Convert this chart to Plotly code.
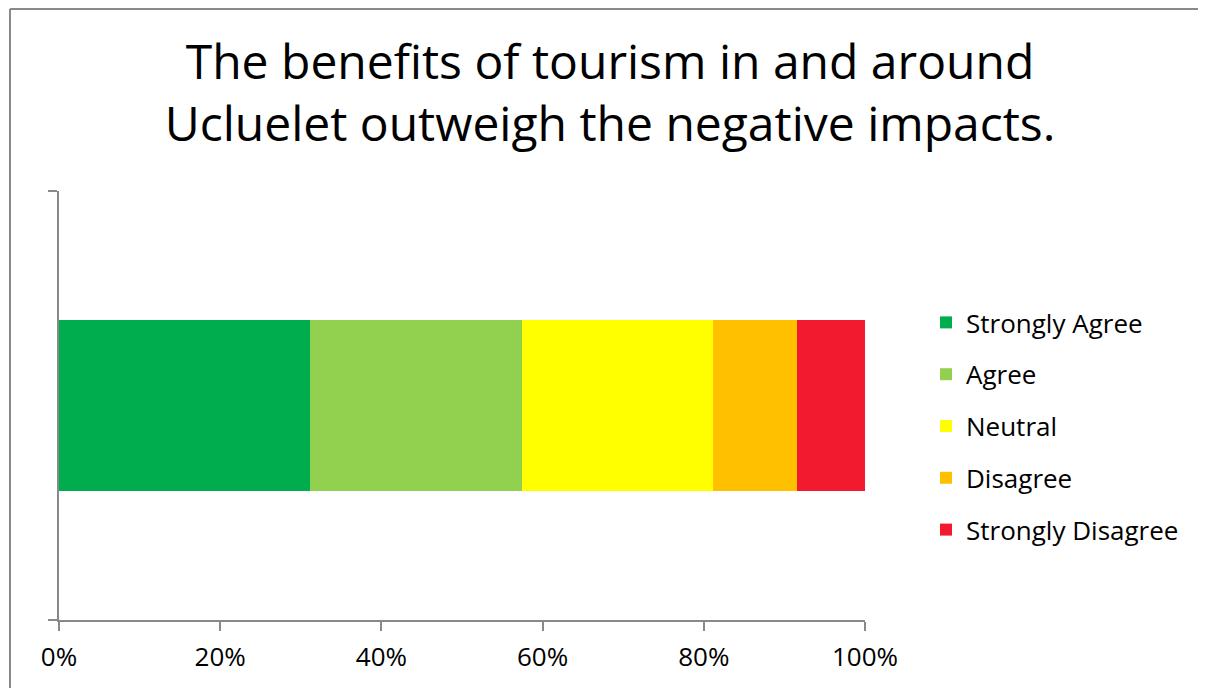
import plotly.graph_objects as go

categories = ["Q"]
series_names = ["Strongly Agree", "Agree", "Neutral", "Disagree", "Strongly Disagree"]
series_values = [31.1, 26.4, 23.7, 10.4, 8.4]
series_colors = ["#00AD4E", "#92D050", "#FFFF00", "#FFC000", "#F21A2F"]
tick_values = [0, 20, 40, 60, 80, 100]
tick_labels = ["0%", "20%", "40%", "60%", "80%", "100%"]
title_text = "The benefits of tourism in and around<br>Ucluelet outweigh the negative impacts."

FONT = "Open Sans"
GREY = "#898989"

fig = go.Figure()
for name, val, col in zip(series_names, series_values, series_colors):
    fig.add_trace(go.Bar(
        y=categories, x=[val], name=name, orientation="h",
        marker=dict(color=col, line=dict(width=0)),
        legendgroup=name, hoverinfo="x+name",
    ))

# page is rendered with an 8px body margin; lay out in page coordinates
OFF = 8
W, H = 1206, 688
L = 59 - OFF
T = 191 - OFF
R = W - (865 - OFF)
B = H - (620 - OFF)
pw, ph = W - L - R, H - T - B

def px(x):
    return (x - OFF - L) / pw

def py(y):
    return (H - B - (y - OFF)) / ph

fig.update_layout(
    width=W, height=H,
    barmode="stack",
    bargap=0.6,
    margin=dict(l=L, r=R, t=T, b=B),
    paper_bgcolor="white",
    plot_bgcolor="white",
    font=dict(family=FONT, color="#000000", size=26),
    title=dict(text=title_text, font=dict(family=FONT, size=48, color="#000000"),
               x=px(610), xanchor="center", xref="paper",
               y=1 - 71 / H, yanchor="top", yref="container"),
    xaxis=dict(range=[0, 100], tickvals=tick_values, ticktext=tick_labels,
               showgrid=False, zeroline=False, showline=True, linecolor=GREY, linewidth=2,
               ticks="outside", ticklen=9, tickwidth=2, tickcolor=GREY,
               ticklabelstandoff=4,
               tickfont=dict(family=FONT, size=26, color="#000000"), fixedrange=True),
    yaxis=dict(showgrid=False, zeroline=False, showline=True, linecolor=GREY, linewidth=2,
               ticks="outside", ticklen=9, tickwidth=2, tickcolor=GREY, tickson="boundaries",
               showticklabels=False, fixedrange=True),
    legend=dict(x=px(926), xanchor="left", y=py(299), yanchor="top",
                font=dict(family=FONT, size=26, color="#000000"),
                traceorder="grouped", tracegroupgap=15, bgcolor="rgba(0,0,0,0)",
                itemwidth=30),
    shapes=[
        dict(type="line", xref="paper", yref="paper",
             x0=px(10), x1=px(1260), y0=py(9), y1=py(9),
             line=dict(color=GREY, width=2), layer="below"),
        dict(type="line", xref="paper", yref="paper",
             x0=px(10), x1=px(10), y0=py(9), y1=py(740),
             line=dict(color=GREY, width=2), layer="below"),
    ],
)

fig.write_html("out.html")
